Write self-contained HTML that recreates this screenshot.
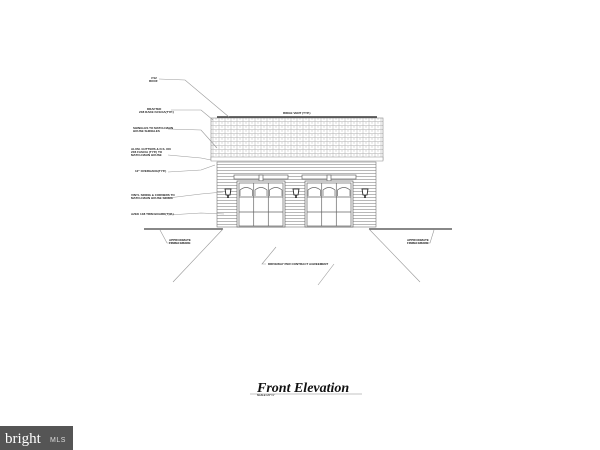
<!DOCTYPE html>
<html><head><style>
html,body{margin:0;padding:0;background:#fff;width:600px;height:450px;overflow:hidden}
svg{display:block}
.t{font-family:"Liberation Sans",sans-serif;font-size:3px;font-weight:bold;fill:#222}
</style></head><body>
<svg width="600" height="450" viewBox="0 0 600 450" xmlns="http://www.w3.org/2000/svg">
<defs>
<pattern id="sh" x="211" y="118" width="6" height="4" patternUnits="userSpaceOnUse">
<rect width="6" height="4" fill="#fff"/>
<path d="M0 3.6H6M2 0V3.6M5 0V1.8" stroke="#aaa" stroke-width="0.5"/>
</pattern>
<pattern id="sd" x="0" y="162" width="4" height="3" patternUnits="userSpaceOnUse">
<rect width="4" height="3" fill="#fff"/>
<path d="M0 2.5H4" stroke="#888" stroke-width="0.6"/>
</pattern>
</defs>
<rect width="600" height="450" fill="#fff"/>
<line x1="217" y1="117" x2="377" y2="117" stroke="#111" stroke-width="1.2"/>
<rect x="211" y="118" width="172" height="42" fill="url(#sh)" stroke="#888" stroke-width="0.6"/>
<rect x="211" y="157" width="172" height="4" fill="#fff" stroke="#888" stroke-width="0.5"/>
<rect x="217" y="162" width="159" height="65" fill="url(#sd)" stroke="#777" stroke-width="0.6"/>
<g id="door" stroke="#666" stroke-width="0.7" fill="#fff">
<rect x="234" y="175" width="54" height="4"/>
<rect x="259" y="175" width="4" height="6"/>
<rect x="237" y="181" width="48" height="46"/>
<rect x="239" y="183" width="44" height="43" fill="none"/>
<path d="M253.7 183V226M268.3 183V226M239 197H283M239 212H283"/>
<path d="M240 196V190Q246 185 252.5 190V196M255 196V190Q261 185 267 190V196M269.5 196V190Q276 185 282 190V196" fill="none"/>
</g>
<use href="#door" x="68"/>
<g fill="#fff" stroke="#111" stroke-width="0.8">
<path d="M225 189h6l-1 6h-4z"/><path d="M293 189h6l-1 6h-4z"/><path d="M362 189h6l-1 6h-4z"/>
</g>
<g fill="#111">
<rect x="227.3" y="195" width="1.4" height="3"/><rect x="295.3" y="195" width="1.4" height="3"/><rect x="364.3" y="195" width="1.4" height="3"/>
</g>
<g stroke="#111" stroke-width="1">
<line x1="144" y1="229" x2="223" y2="229"/>
<line x1="369" y1="229" x2="452" y2="229"/>
</g>
<g stroke="#999" stroke-width="0.6" fill="none">
<line x1="223" y1="229" x2="173" y2="282"/>
<line x1="369" y1="229" x2="420" y2="282"/>
<path d="M160 230L167 243H188"/>
<path d="M434 230L430 243H410"/>
<path d="M276 247L262 264H266"/>
<path d="M334 264L318 285"/>
<path d="M159 79L185 80L229 117"/>
<path d="M171 110L201 110L213 120"/>
<path d="M168 129L201 130L217 148"/>
<path d="M168 155L201 158L211 160"/>
<path d="M168 172L201 170L215 165"/>
<path d="M168 198L201 194L223 192"/>
<path d="M168 215L201 213L224 214"/>
</g>
<g class="t">
<text x="151" y="79">7/12</text><text x="149" y="82">ROOF</text>
<text x="147" y="110">DRAFTED</text><text x="139" y="113">2X8 RAKE FASCIA(TYP.)</text>
<text x="133" y="129">SHINGLES TO MATCH MAIN</text><text x="133" y="132">HOUSE SHINGLES</text>
<text x="131" y="150">ALUM. GUTTERS &amp; D.S. ON</text><text x="131" y="153">2X6 FASCIA (TYP.) TO</text><text x="131" y="156">MATCH MAIN HOUSE</text>
<text x="135" y="172">12" OVERHANG(TYP.)</text>
<text x="131" y="196">VINYL SIDING &amp; CORNERS TO</text><text x="131" y="199">MATCH MAIN HOUSE SIDING</text>
<text x="131" y="215">AZEK 1X8 TRIM BOARD(TYP.)</text>
<text x="283" y="114">RIDGE VENT (TYP.)</text>
<text x="169" y="241">APPROXIMATE</text><text x="169" y="244">FINISH GRADE</text>
<text x="407" y="241">APPROXIMATE</text><text x="407" y="244">FINISH GRADE</text>
<text x="268" y="265">DRIVEWAY PER CONTRACT AGREEMENT</text>
<text x="257" y="396" style="font-size:2.5px">SCALE:1/4"=1'</text>
</g>
<text x="257" y="392" font-family="Liberation Serif,serif" font-style="italic" font-weight="bold" font-size="14" fill="#111">Front Elevation</text>
<line x1="250" y1="394" x2="362" y2="394" stroke="#888" stroke-width="0.6"/>
<rect x="0" y="426" width="73" height="24" fill="#555"/>
<text x="5" y="443" font-family="Liberation Serif,serif" font-size="15" fill="#fff">bright</text>
<text x="50" y="442" font-family="Liberation Sans,sans-serif" font-size="7" fill="#ddd" letter-spacing="0.5">MLS</text>
</svg>
</body></html>
